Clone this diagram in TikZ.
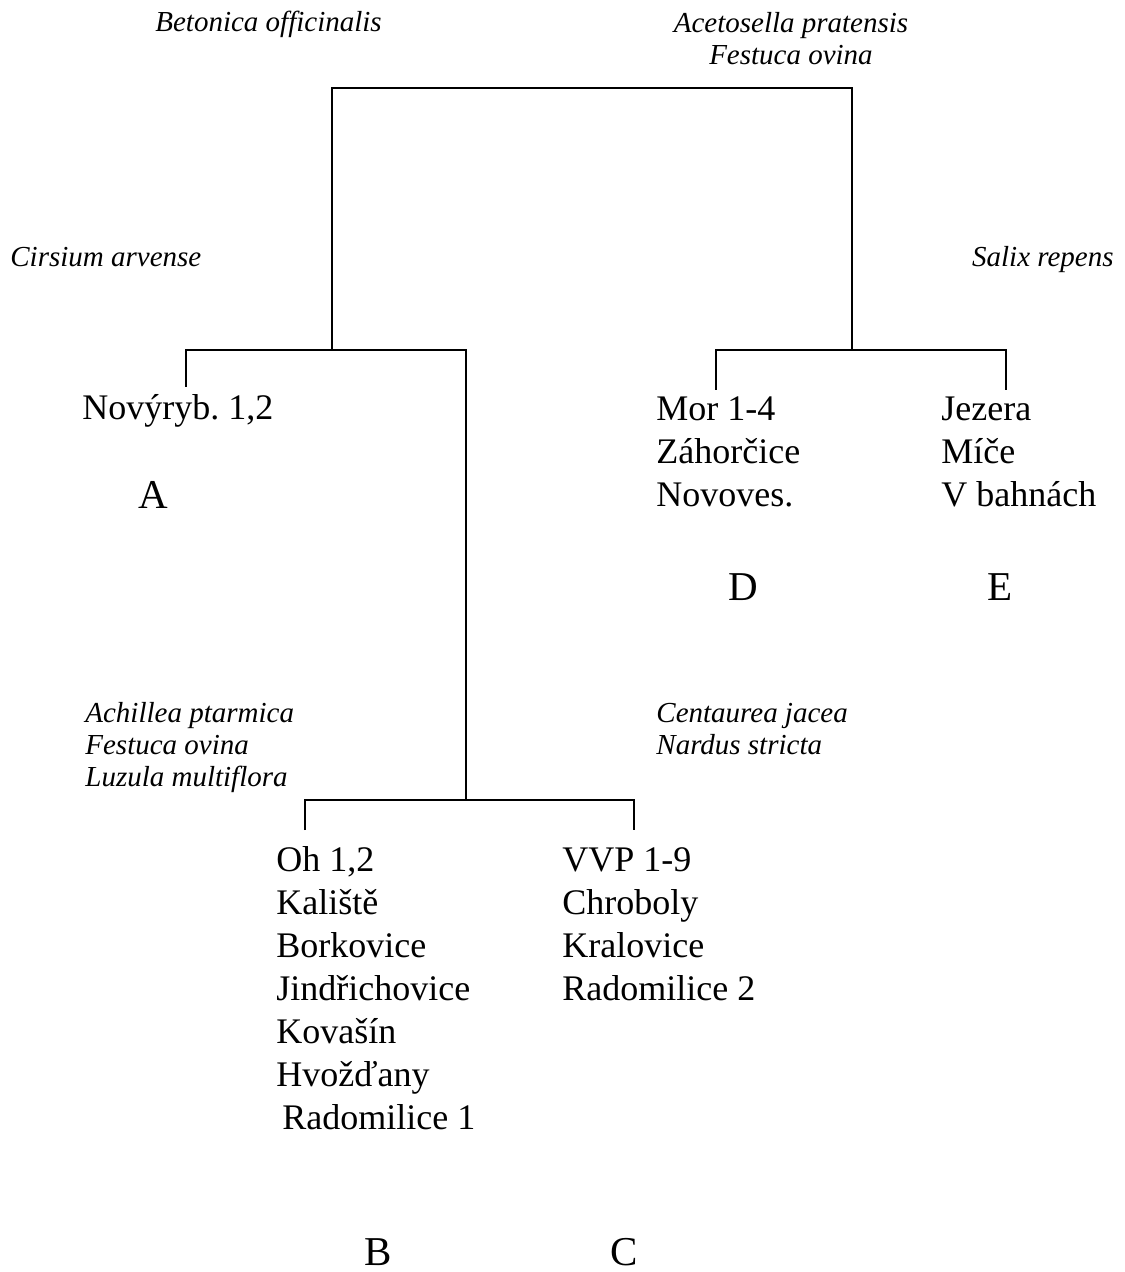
\documentclass[tikz,border=0pt]{standalone}
\usepackage{fontspec}
\setmainfont{Liberation Serif}
\usetikzlibrary{positioning}

\tikzset{
  branch/.style={line width=0.9pt},
  site/.style={anchor=base west,align=left,inner sep=0pt,font=\fontsize{18}{21.5}\selectfont},
  species/.style={anchor=base west,align=left,inner sep=0pt,font=\fontsize{14.5}{16}\selectfont\itshape},
  grp/.style={anchor=base,inner sep=0pt,font=\fontsize{20.5}{24}\selectfont},
}

\begin{document}
\frenchspacing
\begin{tikzpicture}[x=0.5pt,y=-0.5pt]
  \useasboundingbox (0,0) rectangle (1124,1272);
  % division points
  \coordinate (d0l) at (332,88);
  \coordinate (d0r) at (852,88);
  \coordinate (d1) at (332,350);
  \coordinate (d2) at (852,350);
  \coordinate (d3) at (466,800);
  \coordinate (gA) at (186,387);
  \coordinate (gD) at (716,390);
  \coordinate (gE) at (1006,390);
  \coordinate (gB) at (305,830);
  \coordinate (gC) at (634,830);
  \draw[branch] (d1) -- (d0l) -- (d0r) -- (d2);
  \draw[branch] (gA) |- (d1) -- (d1 -| d3) -- (d3);
  \draw[branch] (gD) |- (d2) -| (gE);
  \draw[branch] (gB) |- (d3) -| (gC);
  % indicator species (multi-line nodes sit on their last line)
  \node[species] (spL0) at (155,32) {Betonica officinalis};
  \node[species,anchor=base,align=center] (spR0) at (791,65) {Acetosella pratensis\\Festuca ovina};
  \node[species] (spL1) at (10,267) {Cirsium arvense};
  \node[species,anchor=base east] (spR1) at (1114,267) {Salix repens};
  \node[species] (spL2) at (85,786) {Achillea ptarmica\\Festuca ovina\\Luzula multiflora};
  \node[species] (spR2) at (656,754) {Centaurea jacea\\Nardus stricta};
  % sites
  \node[site] (sA) at (82,420) {Novýryb. 1,2};
  \node[site] (sD) at (656,506) {Mor 1-4\\Záhorčice\\Novoves.};
  \node[site] (sE) at (941,506) {Jezera\\Míče\\V bahnách};
  \node[site] (sB) at (276,1129) {Oh 1,2\\Kaliště\\Borkovice\\Jindřichovice\\Kovašín\\Hvožďany\\\hspace{3pt}Radomilice 1};
  \node[site] (sC) at (562,1000) {VVP 1-9\\Chroboly\\Kralovice\\Radomilice 2};
  % groups
  \node[grp] (A) at (153,508) {A};
  \node[grp] (D) at (743,600) {D};
  \node[grp] (E) at (1000,600) {E};
  \node[grp] (B) at (378,1265) {B};
  \node[grp] (C) at (624,1265) {C};
\end{tikzpicture}
\end{document}
